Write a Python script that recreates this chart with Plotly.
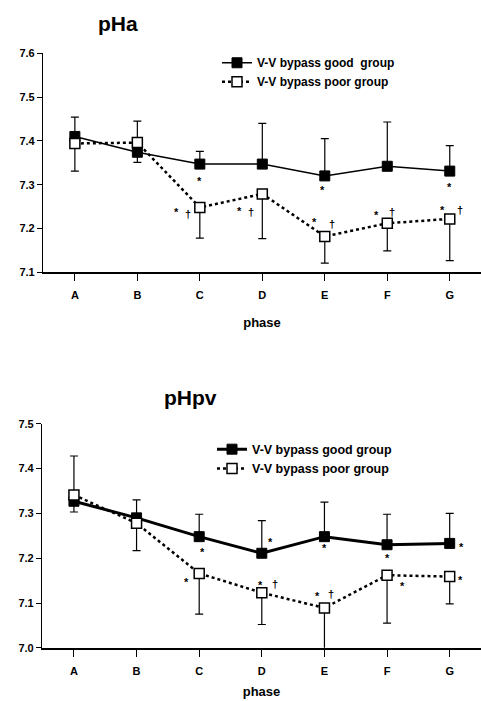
import plotly.graph_objects as go

phases = ["A", "B", "C", "D", "E", "F", "G"]

# pHa panel
pha_good = [7.410, 7.374, 7.347, 7.347, 7.320, 7.342, 7.331]
pha_good_sd = [0.044, 0.071, 0.029, 0.093, 0.085, 0.101, 0.058]
pha_poor = [7.394, 7.396, 7.248, 7.279, 7.182, 7.212, 7.222]
pha_poor_sd = [0.063, 0.045, 0.070, 0.102, 0.061, 0.063, 0.095]

# pHpv panel
phpv_good = [7.327, 7.290, 7.248, 7.211, 7.248, 7.230, 7.233]
phpv_good_sd = [0.101, 0.040, 0.050, 0.073, 0.077, 0.068, 0.067]
phpv_poor = [7.341, 7.278, 7.166, 7.123, 7.089, 7.162, 7.159]
phpv_poor_sd = [0.038, 0.061, 0.091, 0.071, 0.109, 0.107, 0.061]

good_name = "V-V bypass good  group"
good_name2 = "V-V bypass good group"
poor_name = "V-V bypass poor group"

# significance marks: (panel, series, phase index, symbol, dx px, dy px)
sig_marks = [
    (1, "good", 2, "*", 0, 14), (1, "good", 4, "*", -2, 11), (1, "good", 6, "*", 0, 13),
    (1, "poor", 2, "*", -23, 2), (1, "poor", 2, "†", -12, 7),
    (1, "poor", 3, "*", -23, 14), (1, "poor", 3, "†", -11, 18),
    (1, "poor", 4, "*", -10, -17), (1, "poor", 4, "†", 7, -12),
    (1, "poor", 5, "*", -11, -11), (1, "poor", 5, "†", 5, -11),
    (1, "poor", 6, "*", -7, -12), (1, "poor", 6, "†", 10, -9),
    (2, "good", 2, "*", 3, 12), (2, "good", 3, "*", 9, -14), (2, "good", 4, "*", 0, 8),
    (2, "good", 5, "*", 0, 10), (2, "good", 6, "*", 12, 1),
    (2, "poor", 2, "*", -13, 6), (2, "poor", 3, "*", -1, -11), (2, "poor", 3, "†", 13, -9),
    (2, "poor", 4, "*", -7, -15), (2, "poor", 4, "†", 7, -14),
    (2, "poor", 5, "*", 15, 8), (2, "poor", 6, "*", 11, 0),
]

FONT = "Liberation Sans, Arial, sans-serif"
W, H = 481, 701

fig = go.Figure()

def add_panel(xa, ya, good, gsd, poor, psd, legend, gname, gwidth):
    zeros = [0] * len(phases)
    fig.add_trace(go.Scatter(
        x=phases, y=good, mode="lines+markers", name=gname,
        xaxis=xa, yaxis=ya, legend=legend,
        line=dict(color="black", width=gwidth),
        marker=dict(symbol="square", size=10, color="black", line=dict(color="black", width=1)),
        error_y=dict(type="data", symmetric=False, array=gsd, arrayminus=zeros,
                     color="black", thickness=1.2, width=4),
        cliponaxis=False,
    ))
    fig.add_trace(go.Scatter(
        x=phases, y=poor, mode="lines+markers", name=poor_name,
        xaxis=xa, yaxis=ya, legend=legend,
        line=dict(color="black", width=2.5, dash="dot"),
        marker=dict(symbol="square", size=10, color="white", line=dict(color="black", width=1.5)),
        error_y=dict(type="data", symmetric=False, array=zeros, arrayminus=psd,
                     color="black", thickness=1.2, width=4),
        cliponaxis=False,
    ))

add_panel("x", "y", pha_good, pha_good_sd, pha_poor, pha_poor_sd, "legend", good_name, 1.5)
add_panel("x2", "y2", phpv_good, phpv_good_sd, phpv_poor, phpv_poor_sd, "legend2", good_name2, 3)

series = {
    (1, "good"): pha_good, (1, "poor"): pha_poor,
    (2, "good"): phpv_good, (2, "poor"): phpv_poor,
}
annotations = []
for panel, s, i, sym, dx, dy in sig_marks:
    corr = 3 if sym == "*" else 0
    annotations.append(dict(
        x=phases[i], y=series[(panel, s)][i],
        xref="x" if panel == 1 else "x2", yref="y" if panel == 1 else "y2",
        text=sym, showarrow=False, xshift=dx, yshift=-(dy + corr),
        font=dict(family=FONT, size=11, color="black", weight="bold"),
    ))

for label, cx, cy in (("pHa", 118, 18), ("pHpv", 190, 398)):
    annotations.append(dict(x=cx / W, y=1 - cy / H, xref="paper", yref="paper", text=label,
                            xanchor="center", yanchor="middle", showarrow=False,
                            font=dict(family=FONT, size=21, color="black", weight="bold")))

tickfont = dict(family=FONT, size=11, color="black", weight="bold")
titlefont = dict(family=FONT, size=13, color="black", weight="bold")

xcommon = dict(
    type="category", range=[-0.51, 6.5], showgrid=False, zeroline=False,
    showline=True, linecolor="black", linewidth=1.5,
    ticks="outside", ticklen=7, tickwidth=1.2, tickcolor="black",
    tickfont=tickfont, ticklabelstandoff=5,
)
ycommon = dict(
    showgrid=False, zeroline=False, showline=True, linecolor="black", linewidth=1.2,
    ticks="outside", ticklen=5, tickwidth=1.2, tickcolor="black",
    tickfont=tickfont, dtick=0.1, tickformat=".1f",
)

legfont = dict(family=FONT, size=12, color="black", weight="bold")

fig.update_layout(
    width=W, height=H, margin=dict(l=0, r=0, t=0, b=0),
    paper_bgcolor="white", plot_bgcolor="white",
    showlegend=True,
    xaxis=dict(xcommon, domain=[43 / W, 1], anchor="y",
               title=dict(text="phase", font=titlefont, standoff=18)),
    yaxis=dict(ycommon, domain=[1 - 271 / H, 1 - 48 / H], range=[7.1, 7.6], anchor="x"),
    xaxis2=dict(xcommon, domain=[42 / W, 1], anchor="y2",
                title=dict(text="phase", font=titlefont, standoff=11)),
    yaxis2=dict(ycommon, domain=[1 - 653 / H, 1 - 425 / H], range=[7.0, 7.5], anchor="x2"),
    legend=dict(x=217 / W, y=1 - 43 / H, xanchor="left", yanchor="top",
                bgcolor="rgba(0,0,0,0)", font=legfont, tracegroupgap=0),
    legend2=dict(x=212 / W, y=1 - 436 / H, xanchor="left", yanchor="top",
                 bgcolor="rgba(0,0,0,0)", font=dict(legfont, size=12.5), tracegroupgap=0),
    annotations=annotations,
)

fig.write_html("out.html")
